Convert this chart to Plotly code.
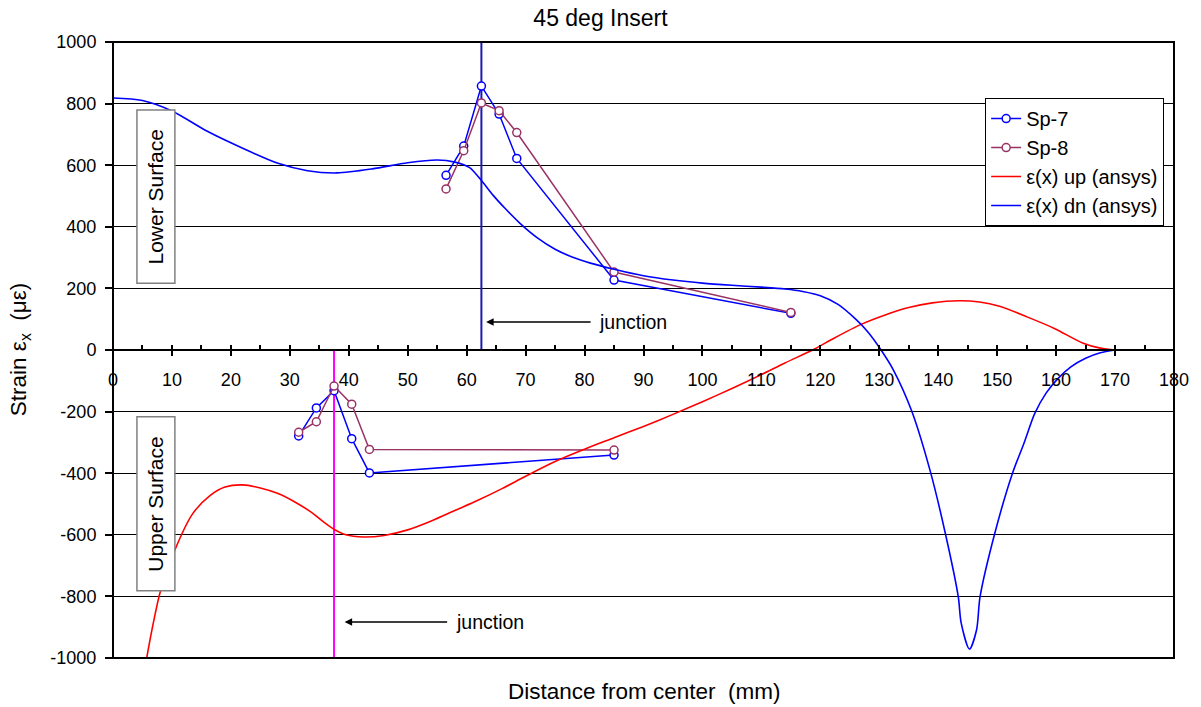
import plotly.graph_objects as go

# Measured strains, specimen Sp-7 (lower and upper surface gauges)
sp7_lower_x = [56.5, 59.5, 62.5, 65.5, 68.5, 85, 115]
sp7_lower_y = [567, 662, 857, 766, 622, 227, 119]
sp7_upper_x = [31.5, 34.5, 37.5, 40.5, 43.5, 85]
sp7_upper_y = [-279, -188, -132, -288, -399, -341]

# Measured strains, specimen Sp-8
sp8_lower_x = [56.5, 59.5, 62.5, 65.5, 68.5, 85, 115]
sp8_lower_y = [523, 647, 802, 777, 706, 253, 122]
sp8_upper_x = [31.5, 34.5, 37.5, 40.5, 43.5, 85]
sp8_upper_y = [-267, -233, -117, -176, -323, -325]

# ANSYS strain, upper surface
up_x = [5.6, 6.8, 8.1, 10.5, 13.5, 16.5, 19, 22, 25, 28, 31, 33.5, 35.5, 37.5,
        39.5, 42.5, 46, 50, 54, 58, 62, 66, 70, 75, 80, 85, 90, 95, 100, 105,
        110, 114, 119, 122, 127, 131, 135, 139, 143.5, 147, 150.4, 155, 159.7,
        164.6, 167.5, 170]
up_y = [-1012, -890, -779, -649, -532, -472, -445, -438, -448, -466, -495, -525,
        -555, -582, -600, -607, -602, -584, -555, -521, -487, -450, -410, -362,
        -322, -285, -248, -209, -168, -125, -80, -42, 3, 35, 84, 114, 138, 153,
        160, 156, 142, 108, 70, 22, 6, 0]

# ANSYS strain, lower surface
dn_x = [0, 5, 10, 16, 22, 28, 33, 38, 44, 50, 55, 58, 60.5, 62.5, 64.5, 66.5, 69,
        72, 75, 78, 81, 85, 90, 95, 100, 105, 110, 114, 117, 120, 123, 126, 128,
        130.3, 132.4, 135.5, 138.6, 141.2, 143.4, 143.9, 145.3, 146.5, 147.1,
        149.6, 152.6, 154.5, 156.4, 158.3, 160.3, 162.5, 165, 167.5, 170]
dn_y = [818, 810, 776, 710, 655, 606, 582, 575, 588, 608, 617, 610, 592, 550, 502,
        460, 412, 364, 327, 301, 282, 262, 241, 227, 217, 210, 204, 198, 190, 176,
        148, 100, 60, 0, -65, -198, -390, -595, -801, -887, -971, -909, -801, -595,
        -400, -305, -205, -140, -93, -55, -27, -9, 0]

# Junction locations (mm)
junction_lower_x = 62.5
junction_upper_x = 37.5

y_ticks = [-1000, -800, -600, -400, -200, 0, 200, 400, 600, 800, 1000]
y_ticklabels = ["-1000", "-800", "-600", "-400", "-200", "0", "200", "400",
                "600", "800", "1000"]
x_ticks = list(range(0, 181, 10))
x_ticklabels = [str(v) for v in x_ticks]

FONT = "Liberation Sans, Arial, sans-serif"
MAROON = "#993366"


def join(a, b):
    return list(a) + [None] + list(b)


fig = go.Figure()

fig.add_trace(go.Scatter(
    x=[junction_lower_x, junction_lower_x], y=[0, 1000], mode="lines",
    line=dict(color="#1a1ab0", width=2), showlegend=False, hoverinfo="skip"))
fig.add_trace(go.Scatter(
    x=[junction_upper_x, junction_upper_x], y=[-1000, 0], mode="lines",
    line=dict(color="#ff00ff", width=2), showlegend=False, hoverinfo="skip"))

fig.add_trace(go.Scatter(
    x=join(sp7_lower_x, sp7_upper_x), y=join(sp7_lower_y, sp7_upper_y),
    mode="lines+markers", name="Sp-7", connectgaps=False,
    line=dict(color="#0000ff", width=1.5),
    marker=dict(symbol="circle", size=8, color="white",
                line=dict(color="#0000ff", width=1.5))))
fig.add_trace(go.Scatter(
    x=join(sp8_lower_x, sp8_upper_x), y=join(sp8_lower_y, sp8_upper_y),
    mode="lines+markers", name="Sp-8", connectgaps=False,
    line=dict(color=MAROON, width=1.5),
    marker=dict(symbol="circle", size=8, color="white",
                line=dict(color=MAROON, width=1.5))))
fig.add_trace(go.Scatter(
    x=up_x, y=up_y, mode="lines", name="ε(x) up (ansys)",
    line=dict(color="#ff0000", width=1.6, shape="spline", smoothing=0.9)))
fig.add_trace(go.Scatter(
    x=dn_x, y=dn_y, mode="lines", name="ε(x) dn (ansys)",
    line=dict(color="#0000ff", width=1.6, shape="spline", smoothing=0.8)))

# helper trace so the overlay axis (upward major ticks) is rendered
fig.add_trace(go.Scatter(x=[], y=[], xaxis="x2", showlegend=False,
                         hoverinfo="skip"))

# surface labels in framed boxes
for y0, y1, label in [(217, 779, "Lower Surface"), (-782, -217, "Upper Surface")]:
    fig.add_shape(type="rect", xref="x", yref="y", x0=4.06, x1=10.5, y0=y0, y1=y1,
                  line=dict(color="#808080", width=1.5), fillcolor="white",
                  layer="above")
    fig.add_annotation(x=7.28, y=(y0 + y1) / 2, xref="x", yref="y", text=label,
                       textangle=-90, showarrow=False,
                       font=dict(family=FONT, size=21, color="black"))

# junction arrows
for hx, hy, off in [(63.3, 91, 147), (39.3, -883, 145)]:
    fig.add_annotation(x=hx, y=hy, xref="x", yref="y", text="junction",
                       showarrow=True, ax=off, ay=0, arrowhead=2, arrowsize=1,
                       arrowwidth=1.5, arrowcolor="black", borderpad=8,
                       standoff=0, font=dict(family=FONT, size=19.5, color="black"))

# plot frame
fig.add_shape(type="rect", xref="paper", yref="paper", x0=0, x1=1, y0=0, y1=1,
              line=dict(color="black", width=2), layer="above")

fig.add_annotation(x=0.5014, y=-0.055, xref="paper", yref="paper",
                   text="Distance from center\u00a0\u00a0(mm)", showarrow=False,
                   yanchor="middle", font=dict(family=FONT, size=22.5, color="black"))
fig.add_annotation(x=-0.0875, y=0.5, xref="paper", yref="paper",
                   text="Strain ε<sub>x</sub>\u00a0\u00a0(με)", showarrow=False,
                   textangle=-90, xanchor="center",
                   font=dict(family=FONT, size=22.5, color="black"))

fig.update_layout(
    width=1201, height=707,
    margin=dict(l=113, r=25, t=42, b=49),
    paper_bgcolor="white", plot_bgcolor="white",
    font=dict(family=FONT, size=18, color="black"),
    title=dict(text="45 deg Insert", x=0.5, xref="container", y=1 - 18 / 707,
               yref="container", yanchor="middle", xanchor="center",
               font=dict(family=FONT, size=23, color="black")),
    xaxis=dict(range=[0, 180], anchor="free", position=0.5,
               tickvals=x_ticks, ticktext=x_ticklabels,
               showline=True, linecolor="black", linewidth=2,
               ticks="outside", ticklen=5, tickwidth=1.5, tickcolor="black",
               ticklabelstandoff=8,
               minor=dict(ticks="inside", dtick=5, tick0=0, ticklen=4,
                          tickwidth=1.5, tickcolor="black", showgrid=False),
               showgrid=False, zeroline=False, fixedrange=True),
    xaxis2=dict(range=[0, 180], overlaying="x", anchor="free", position=0.5,
                tickvals=x_ticks, showticklabels=False, ticks="inside",
                ticklen=5, tickwidth=1.5, tickcolor="black",
                showline=False, showgrid=False, zeroline=False),
    yaxis=dict(range=[-1000, 1000], tickvals=y_ticks, ticktext=y_ticklabels,
               showgrid=True, gridcolor="black", gridwidth=1, zeroline=False,
               ticks="outside", ticklen=7, tickwidth=1.5, tickcolor="black",
               ticklabelstandoff=5, showline=False),
    legend=dict(x=0.822, y=0.909, xanchor="left", yanchor="top",
                bordercolor="black", borderwidth=1, bgcolor="white",
                font=dict(family=FONT, size=20, color="black"),
                tracegroupgap=0),
    showlegend=True,
)

fig.write_html("out.html")
